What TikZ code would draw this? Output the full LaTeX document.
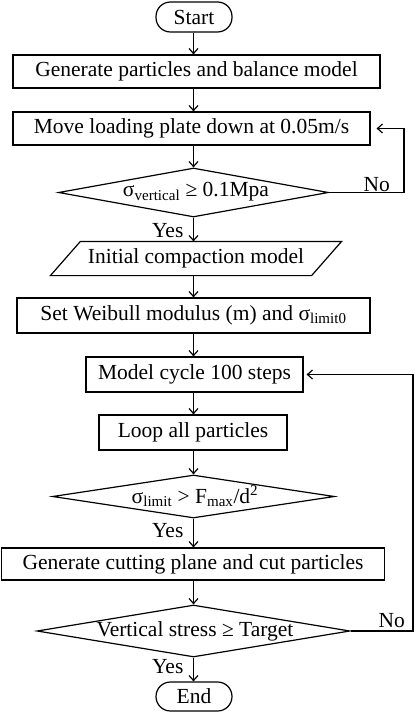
\documentclass[tikz,border=0pt]{standalone}
\usepackage{fontspec}
\setmainfont{Liberation Serif}
\usetikzlibrary{shapes.geometric, arrows.meta, calc}
\begin{document}
\begin{tikzpicture}[x=1pt,y=-1pt, line width=1.2pt,
  txt/.style={font=\fontsize{21.5}{25}\selectfont},
  box/.style={draw, rectangle, inner sep=0pt, txt},
  term/.style={box, rounded corners=14.5pt},
  dia/.style={draw, diamond, inner sep=0pt},
  lbl/.style={txt, inner sep=0pt},
  arr/.style={-{Straight Barb[length=5pt,width=9pt]}}]
\useasboundingbox (0,0) rectangle (415,714);
\coordinate (ax) at (193.5,0);
\coordinate (r1) at (404,0);
\coordinate (r2) at (413,0);
% nodes
\node[term, minimum width=76pt, minimum height=30pt] (start) at (194,17) {Start};
\node[box, minimum width=367pt, minimum height=33pt] (b1) at (196.5,71.5) {Generate particles and balance model};
\node[box, minimum width=357pt, minimum height=33pt] (b2) at (191.5,128.5) {Move loading plate down at 0.05m/s};
\node[dia, minimum width=270pt, minimum height=49pt] (d1) at (193.5,192.5) {};
\node[lbl] (t1) at (196,192) {σ\textsubscript{vertical} ≥ 0.1Mpa};
\node[lbl, minimum width=260pt, minimum height=33pt] (p) at (196,258.5) {Initial compaction model};
\draw ($(p.north west)+(15,0)$) -- ($(p.north east)+(15,0)$) -- ($(p.south east)+(-15,0)$) -- ($(p.south west)+(-15,0)$) -- cycle;
\node[box, minimum width=353pt, minimum height=35pt] (b3) at (193.5,315.5) {Set Weibull modulus (m) and σ\textsubscript{limit0}};
\node[box, minimum width=217pt, minimum height=35pt] (b4) at (194.5,374.5) {Model cycle 100 steps};
\node[box, minimum width=188pt, minimum height=35pt] (b5) at (193,432.5) {Loop all particles};
\node[dia, minimum width=282pt, minimum height=43pt] (d2) at (193.5,496.5) {};
\node[lbl] (t2) at (195,496) {σ\textsubscript{limit} > F\textsubscript{max}/d\textsuperscript{2}};
\node[box, minimum width=383pt, minimum height=32pt] (b6) at (193,564) {Generate cutting plane and cut particles};
\node[dia, minimum width=313pt, minimum height=52pt] (d3) at (193.5,631) {};
\node[lbl] (t3) at (195,631) {Vertical stress ≥ Target};
\node[term, minimum width=76pt, minimum height=29pt] (end) at (194,696.5) {End};
% labels
\node[lbl, anchor=base east] (y1) at (184,237) {Yes};
\node[lbl, anchor=base east] (y2) at (184,537) {Yes};
\node[lbl, anchor=base east] (y3) at (184,673) {Yes};
\node[lbl, anchor=base west] (n1) at (363,192) {No};
\node[lbl, anchor=base west] (n3) at (378,627) {No};
% connectors
\draw[arr] (start.south -| ax) -- (b1.north -| ax);
\draw[arr] (b1.south -| ax) -- (b2.north -| ax);
\draw[arr] (b2.south -| ax) -- (d1.north);
\draw[arr] (d1.south) -- (p.north -| ax);
\draw[arr] (p.south -| ax) -- (b3.north -| ax);
\draw[arr] (b3.south -| ax) -- (b4.north -| ax);
\draw[arr] (b4.south -| ax) -- (b5.north -| ax);
\draw[arr] (b5.south -| ax) -- (d2.north);
\draw[arr] (d2.south) -- (b6.north -| ax);
\draw[arr] (b6.south -| ax) -- (d3.north);
\draw[arr] (d3.south) -- (end.north -| ax);
\draw[arr, shorten >=6pt] (d1.east) -- (d1.east -| r1) -- (b2.east -| r1) -- (b2.east);
\draw[arr, shorten >=3pt] (d3.east) -- (d3.east -| r2) -- (b4.east -| r2) -- (b4.east);
\end{tikzpicture}
\end{document}
